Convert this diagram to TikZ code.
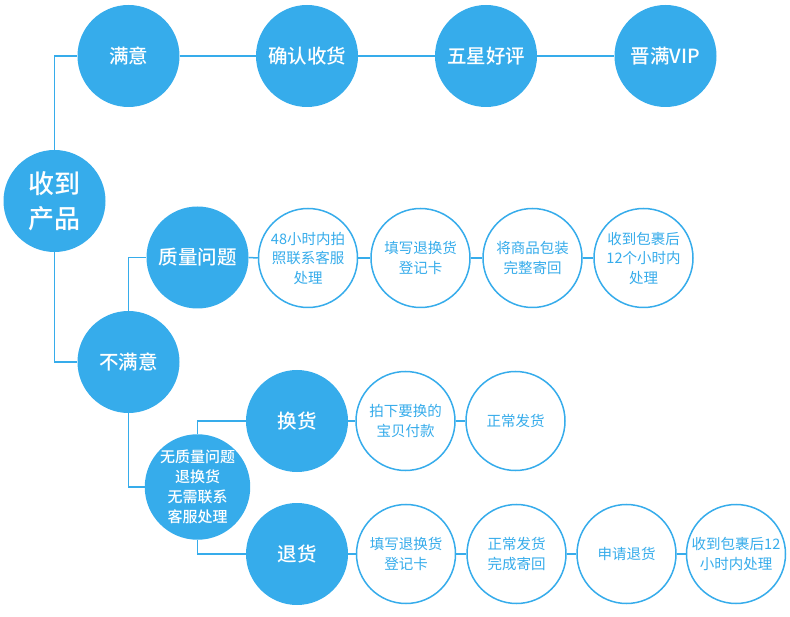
\documentclass[tikz,border=0pt]{standalone}
\usepackage{fontspec}
\newfontfamily\cjk{Noto Sans CJK SC}
\IfFontExistsTF{Noto Sans CJK SC Medium}
  {\newfontfamily\cjkb{Noto Sans CJK SC Medium}}
  {\newcommand\cjkb{\cjk\bfseries}}
\definecolor{bl}{RGB}{54,172,235}
\begin{document}
\begin{tikzpicture}[x=1pt,y=-1pt,
  bfill/.style={circle,fill=bl,draw=none,minimum size=102pt,inner sep=0pt,text=white,font=\cjkb\fontsize{19.5}{24}\selectfont,align=center},
  outl/.style={circle,draw=bl,line width=1.5pt,fill=white,minimum size=99pt,inner sep=0pt,text=bl,font=\cjk\fontsize{14.5}{19.5}\selectfont,align=center},
  conn/.style={draw=bl,line width=1.5pt}]
\useasboundingbox (0,0) rectangle (790,617);
% nodes
\node[bfill,font=\cjkb\fontsize{26}{35}\selectfont] (root) at (54.5,201) {收到\\产品};
\node[bfill] (my) at (128.5,56) {满意};
\node[bfill] (qr) at (307,56) {确认收货};
\node[bfill] (wx) at (486,56) {五星好评};
\node[bfill] (jm) at (665.5,56) {晋满VIP};
\node[bfill] (bmy) at (128.5,362) {不满意};
\node[bfill] (zl) at (197.5,257.5) {质量问题};
\node[outl] (q1) at (308,258) {48小时内拍\\照联系客服\\处理};
\node[outl] (q2) at (420.5,258) {填写退换货\\登记卡};
\node[outl] (q3) at (532.5,258) {将商品包装\\完整寄回};
\node[outl] (q4) at (643.5,258) {收到包裹后\\12个小时内\\处理};
\node[bfill,font=\cjkb\fontsize{15}{20}\selectfont] (wz) at (197.5,487) {无质量问题\\退换货\\无需联系\\客服处理};
\node[bfill] (hh) at (297,421) {换货};
\node[outl] (h1) at (405.5,421) {拍下要换的\\宝贝付款};
\node[outl] (h2) at (515.5,421) {正常发货};
\node[bfill] (th) at (297,554) {退货};
\node[outl] (t1) at (406,554) {填写退换货\\登记卡};
\node[outl] (t2) at (516.5,554) {正常发货\\完成寄回};
\node[outl] (t3) at (626.5,554) {申请退货};
\node[outl] (t4) at (736,554) {收到包裹后12\\小时内处理};
% connectors
\path[conn] (root.north) |- (my.west);
\path[conn] (my.east) -- (qr.west);
\path[conn] (qr.east) -- (wx.west);
\path[conn] (wx.east) -- (jm.west);
\path[conn] (root.south) |- (bmy.west);
\path[conn] (bmy.north) |- (zl.west);
\path[conn] (zl.east) -- (q1.west);
\path[conn] (q1.east) -- (q2.west);
\path[conn] (q2.east) -- (q3.west);
\path[conn] (q3.east) -- (q4.west);
\path[conn] (bmy.south) |- (wz.west);
\path[conn] (wz.north) |- (hh.west);
\path[conn] (wz.south) |- (th.west);
\path[conn] (hh.east) -- (h1.west);
\path[conn] (h1.east) -- (h2.west);
\path[conn] (th.east) -- (t1.west);
\path[conn] (t1.east) -- (t2.west);
\path[conn] (t2.east) -- (t3.west);
\path[conn] (t3.east) -- (t4.west);
\end{tikzpicture}
\end{document}
